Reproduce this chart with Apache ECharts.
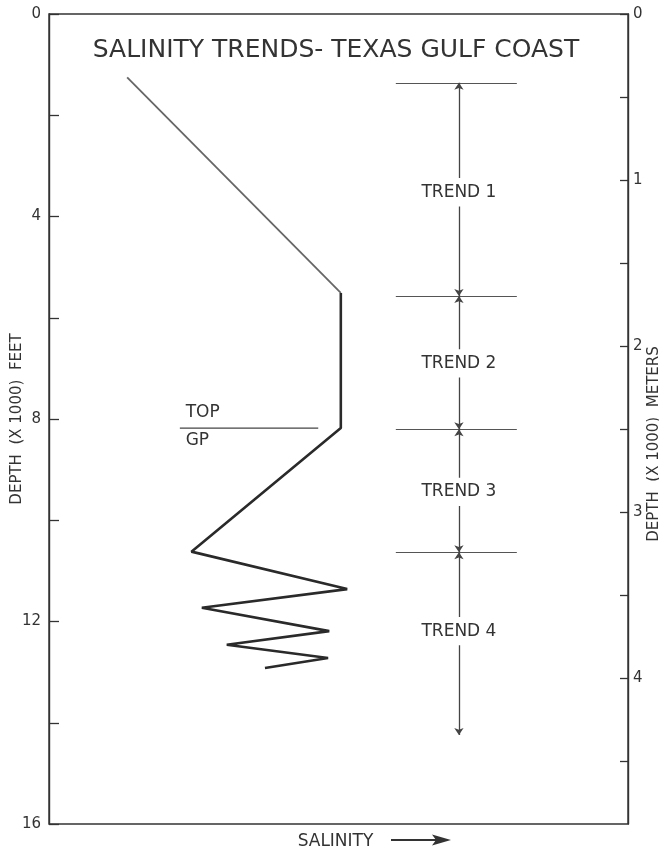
<!DOCTYPE html>
<html><head><meta charset="utf-8">
<script src="https://cdn.jsdelivr.net/npm/echarts@6/dist/echarts.min.js"></script>
<style>html,body{margin:0;padding:0;background:#fff}#c{width:659px;height:851px}</style>
</head><body><div id="c"></div>
<script>
// ---- data ----
const salinityDepth = [1.25, 5.51, 8.18, 10.62, 11.36, 11.73, 12.19, 12.46, 12.72, 12.92]; // x1000 ft
const salinityValue = [13.5, 50.4, 50.4, 24.6, 51.5, 26.4, 48.4, 30.7, 48.2, 37.3];      // relative salinity
const trendNames = ['TREND 1', 'TREND 2', 'TREND 3', 'TREND 4'];
const trendTops = [1.36, 5.57, 8.20, 10.63];
const trendEnd = 14.24;
const trendLabelDepth = [3.52, 6.90, 9.44, 12.19];
const gpTopDepth = 8.18;
const gpLabels = ['TOP', 'GP'];
const gpLabelDepth = [7.88, 8.43];
const feetLabels = [0, 4, 8, 12, 16];
const meterLabels = [0, 1, 2, 3, 4];

// ---- layout constants (salinity-axis units) ----
const trendX = 70.8, bndL = 59.9, bndR = 80.8, gapHalf = 0.28;
const gpL = 22.6, gpR = 46.5, gpTextX = 23.6;

const FT_MAX = 16, M_MAX = 16 * 0.3048;
const TXT = '#333', LN = '#333';
const FONT = 'DejaVu Sans';

const upArrows = [], downArrows = [], bounds = [];
trendTops.forEach((t, i) => {
  const bottom = i < trendTops.length - 1 ? trendTops[i + 1] : trendEnd;
  bounds.push({ coords: [[bndL, t], [bndR, t]] });
  upArrows.push({ coords: [[trendX, t], [trendX, trendLabelDepth[i] - gapHalf]] });
  downArrows.push({ coords: [[trendX, trendLabelDepth[i] + gapHalf], [trendX, bottom]] });
});

const chart = echarts.init(document.getElementById('c'), null, { renderer: 'canvas' });
chart.setOption({
  animation: false,
  backgroundColor: '#fff',
  textStyle: { fontFamily: FONT, color: TXT },
  title: {
    text: 'SALINITY TRENDS- TEXAS GULF COAST',
    left: 331, top: 33, textAlign: 'center',
    textStyle: { fontFamily: FONT, fontSize: 25, fontWeight: 'normal', color: TXT }
  },
  grid: { left: 49, right: 31, top: 14, bottom: 27, outerBoundsMode: 'none', containLabel: false,
    show: true, borderColor: LN, borderWidth: 1.4, backgroundColor: 'transparent' },
  xAxis: {
    type: 'value', min: 0, max: 100,
    name: 'SALINITY', nameLocation: 'middle', nameGap: 9, nameMoveOverlap: false,
    nameTextStyle: { fontFamily: FONT, fontSize: 17, color: TXT, padding: [0, 6, 0, 0] },
    axisLine: { show: false }, axisTick: { show: false }, axisLabel: { show: false }, splitLine: { show: false }
  },
  yAxis: [
    {
      type: 'value', inverse: true, min: 0, max: FT_MAX, interval: 2, position: 'left',
      name: 'DEPTH  (X 1000)  FEET', nameLocation: 'middle', nameGap: 24, nameRotate: 90, nameMoveOverlap: false,
      nameTextStyle: { fontFamily: FONT, fontSize: 15, color: TXT },
      axisLine: { show: true, lineStyle: { color: LN, width: 1.4 } },
      axisTick: { show: true, inside: true, length: 10, lineStyle: { color: LN, width: 1.3 } },
      axisLabel: { margin: 8, fontSize: 15, color: TXT, fontFamily: FONT,
        formatter: v => feetLabels.includes(v) ? String(v) : '' },
      splitLine: { show: false }
    },
    {
      type: 'value', inverse: true, min: 0, max: M_MAX, interval: 0.5, position: 'right',
      name: 'DEPTH  (X 1000)  METERS', nameLocation: 'middle', nameGap: 19, nameRotate: 90, nameMoveOverlap: false,
      nameTextStyle: { fontFamily: FONT, fontSize: 15, color: TXT, padding: [0, 50, 0, 0] },
      axisLine: { show: true, lineStyle: { color: LN, width: 1.4 } },
      axisTick: { show: true, inside: true, length: 8, lineStyle: { color: LN, width: 1.3 } },
      axisLabel: { margin: 5, fontSize: 15, color: TXT, fontFamily: FONT, showMaxLabel: false,
        formatter: v => meterLabels.some(m => Math.abs(m - v) < 1e-6) ? String(Math.round(v)) : '' },
      splitLine: { show: false }
    }
  ],
  series: [
    {
      name: 'shallow', type: 'line', symbol: 'none', yAxisIndex: 0,
      data: salinityValue.slice(0, 2).map((x, i) => [x, salinityDepth[i]]),
      lineStyle: { color: '#666', width: 1.8 }
    },
    {
      name: 'deep', type: 'line', symbol: 'none', yAxisIndex: 0,
      data: salinityValue.slice(1).map((x, i) => [x, salinityDepth[i + 1]]),
      lineStyle: { color: '#2a2a2a', width: 2.6 }
    },
    {
      name: 'gp', type: 'line', symbol: 'none', yAxisIndex: 0,
      data: [[gpL, gpTopDepth], [gpR, gpTopDepth]],
      lineStyle: { color: '#444', width: 1.4 }
    },
    {
      name: 'bounds', type: 'lines', coordinateSystem: 'cartesian2d', yAxisIndex: 0,
      symbol: ['none', 'none'], data: bounds,
      lineStyle: { color: '#555', width: 1.2, opacity: 1 }
    },
    {
      name: 'up', type: 'lines', coordinateSystem: 'cartesian2d', yAxisIndex: 0,
      symbol: ['arrow', 'none'], symbolSize: 7, data: upArrows,
      lineStyle: { color: '#444', width: 1.3, opacity: 1 }
    },
    {
      name: 'down', type: 'lines', coordinateSystem: 'cartesian2d', yAxisIndex: 0,
      symbol: ['none', 'arrow'], symbolSize: 7, data: downArrows,
      lineStyle: { color: '#444', width: 1.3, opacity: 1 }
    },
    {
      name: 'trendLabels', type: 'scatter', yAxisIndex: 0, symbol: 'circle', symbolSize: 0,
      itemStyle: { opacity: 1 },
      data: trendNames.map((n, i) => ({ value: [trendX, trendLabelDepth[i]], name: n })),
      label: { show: true, position: 'inside', formatter: p => p.name, fontFamily: FONT, fontSize: 17, color: TXT, opacity: 1 }
    },
    {
      name: 'gpLabels', type: 'scatter', yAxisIndex: 0, symbol: 'circle', symbolSize: 0,
      itemStyle: { opacity: 1 },
      data: gpLabels.map((n, i) => ({ value: [gpTextX, gpLabelDepth[i]], name: n })),
      label: { show: true, position: 'right', distance: 0, formatter: p => p.name, fontFamily: FONT, fontSize: 17, color: TXT, opacity: 1 }
    }
  ],
  graphic: [
    { type: 'line', shape: { x1: 391, y1: 840, x2: 440, y2: 840 }, style: { stroke: '#333', lineWidth: 2 } },
    { type: 'polygon', shape: { points: [[432, 834.5], [451, 840], [432, 845.5], [436, 840]] }, style: { fill: '#333' } }
  ]
});
</script></body></html>
